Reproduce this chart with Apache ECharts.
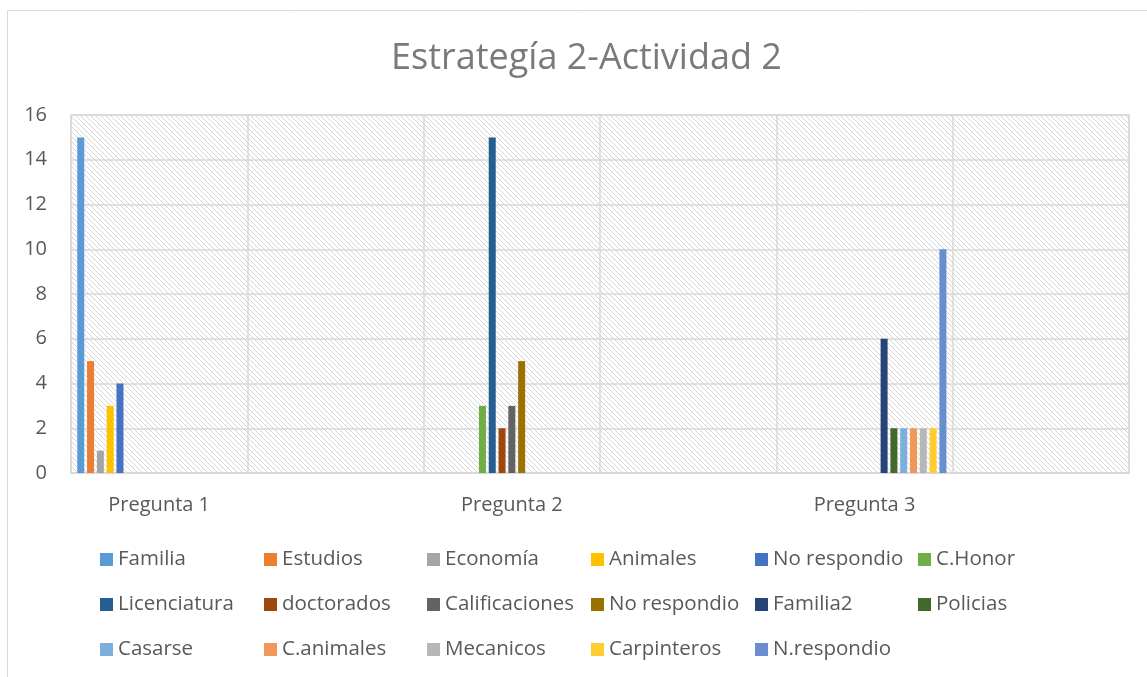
<!DOCTYPE html>
<html>
<head>
<meta charset="utf-8">
<script src="https://cdn.jsdelivr.net/npm/echarts@6/dist/echarts.min.js"></script>
<style>
html,body{margin:0;padding:0;background:#fff;}
#chart{width:1147px;height:677px;}
</style>
</head>
<body>
<div id="chart"></div>
<script>
// ---- data ----
const titleText = 'Estrategía 2-Actividad 2';
const categories = ['Pregunta 1', '', 'Pregunta 2', '', 'Pregunta 3', ''];
const seriesNames = ['Familia', 'Estudios', 'Economía', 'Animales', 'No respondio', 'C.Honor',
  'Licenciatura', 'doctorados', 'Calificaciones', 'No respondio ', 'Familia2', 'Policias',
  'Casarse', 'C.animales', 'Mecanicos', 'Carpinteros', 'N.respondio'];
const seriesColors = ['#5B9BD5', '#ED7D31', '#A5A5A5', '#FFC000', '#4472C4', '#70AD47',
  '#255E91', '#9E480E', '#636363', '#997300', '#264478', '#43682B',
  '#7CAFDD', '#F1975A', '#B7B7B7', '#FFCD33', '#698ED0'];
// values of each series for Pregunta 1, Pregunta 2, Pregunta 3
const pregunta1 = [15, 5, 1, 3, 4, 0, 0, 0, 0, 0, 0, 0, 0, 0, 0, 0, 0];
const pregunta2 = [0, 0, 0, 0, 0, 3, 15, 2, 3, 5, 0, 0, 0, 0, 0, 0, 0];
const pregunta3 = [0, 0, 0, 0, 0, 0, 0, 0, 0, 0, 6, 2, 2, 2, 2, 2, 10];
const yTicks = { min: 0, max: 16, interval: 2 };

// ---- layout ----
const legendCols = [100, 264, 427, 591, 755, 918];
const legendRows = [549, 594, 639];

// hatch pattern for plot area
const T = 5;
const pc = document.createElement('canvas');
pc.width = T; pc.height = T;
const pctx = pc.getContext('2d');
pctx.fillStyle = '#ffffff'; pctx.fillRect(0, 0, T, T);
pctx.fillStyle = '#d6d6d6';
for (let i = 0; i < T; i++) pctx.fillRect(i, i, 1, 1);

const chart = echarts.init(document.getElementById('chart'), null, { renderer: 'canvas' });
const FONT = '"Open Sans", "Liberation Sans", sans-serif';

const series = seriesNames.map((name, i) => ({
  name: name,
  type: 'bar',
  barWidth: 7,
  barGap: '40%',
  itemStyle: { color: seriesColors[i] },
  data: [pregunta1[i], null, pregunta2[i], null, pregunta3[i], null],
  animation: false
}));

const legends = seriesNames.map((name, i) => ({
  data: [name],
  left: legendCols[i % 6],
  top: legendRows[Math.floor(i / 6)],
  padding: 0,
  icon: 'rect',
  itemWidth: 13,
  itemHeight: 13,
  selectedMode: false,
  textStyle: { color: '#595959', fontSize: 20.5, fontFamily: FONT, padding: [0, 0, 0, 0] }
}));

chart.setOption({
  animation: false,
  backgroundColor: '#ffffff',
  title: {
    text: titleText,
    left: 386,
    top: 36,
    textStyle: { color: '#7a7a7a', fontSize: 36, fontWeight: 'normal', fontFamily: FONT }
  },
  graphic: [{
    type: 'rect',
    shape: { x: 7.5, y: 10.5, width: 1200, height: 700 },
    style: { fill: null, stroke: '#d9d9d9', lineWidth: 1 },
    silent: true
  }],
  legend: legends,
  grid: {
    left: 71, right: 18, top: 115, bottom: 204,
    show: true,
    backgroundColor: { image: pc, repeat: 'repeat' },
    borderColor: '#d9d9d9',
    borderWidth: 1.5
  },
  xAxis: {
    type: 'category',
    data: categories,
    boundaryGap: true,
    axisLine: { show: true, lineStyle: { color: '#d9d9d9', width: 1.5 } },
    axisTick: { show: false },
    splitLine: { show: true, interval: 0, lineStyle: { color: '#d9d9d9', width: 1.5 } },
    axisLabel: { interval: 0, color: '#595959', fontSize: 20, fontFamily: FONT, margin: 22 }
  },
  yAxis: {
    type: 'value',
    min: yTicks.min, max: yTicks.max, interval: yTicks.interval,
    axisLine: { show: false },
    axisTick: { show: false },
    splitLine: { show: true, lineStyle: { color: '#d9d9d9', width: 1.5 } },
    axisLabel: { color: '#595959', fontSize: 20, fontFamily: FONT, margin: 24 }
  },
  series: series
});
</script>
</body>
</html>
